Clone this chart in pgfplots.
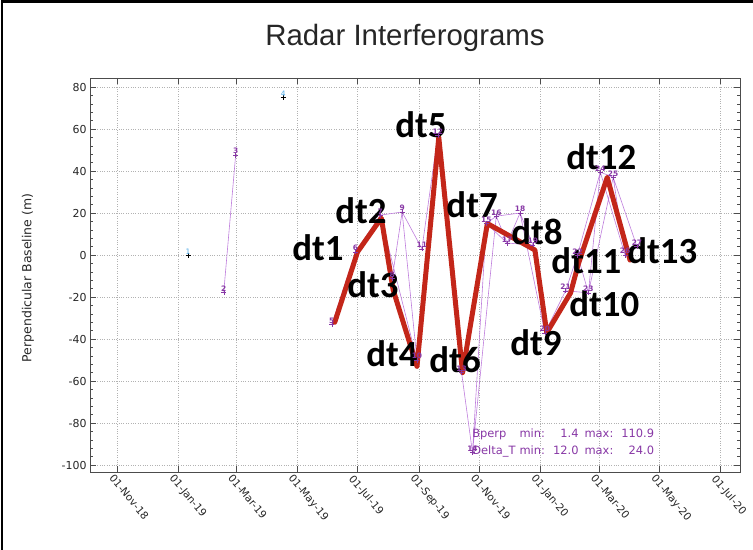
\documentclass[border=0pt]{standalone}
\usepackage{pgfplots}
\pgfplotsset{compat=1.18}
\usepackage{pgfplotstable}
\usepackage{fontspec}
\setmainfont{DejaVu Sans}
\newfontfamily\arialf{Liberation Sans}
\newfontfamily\calib{Carlito}
\definecolor{ptlab}{RGB}{135,55,165}
\definecolor{thinl}{RGB}{190,125,220}
\definecolor{redl}{RGB}{195,38,25}
\definecolor{cyanl}{RGB}{80,170,230}

\pgfplotstableread{
x y l
107 -17.6 2
119 47.6 3
216 -33 5
240 1.5 6
265 19 7
277 -11 8
287 20.5 9
302 -50 10
307 3 11
323 57 12
347 -56 13
358 -94 14
372 15 15
382 18.5 16
393 5.7 17
406 20 18
419 4.8 19
431 -37 20
452 -17 21
464 0 22
475 -18 23
487 39.5 24
500 37 25
512 0 26
524 4 27
}\pts

\pgfplotstableread{
x y l
71 0 1
167 75 4
}\ptsb

\pgfplotstableread{
x y
219 -32
242 1.5
266 17.6
278 -16.7
302 -53
324 56
348 -56
373 15
421 2.4
433 -37
457 -18
465 -4
494 37
517 -2.4
}\redpath

\begin{document}
\begin{tikzpicture}[x=1bp,y=1bp]
\begin{axis}[
  name=ax, at={(0,0)}, anchor=south west,
  scale only axis, width=650bp, height=394bp,
  xmin=-28, xmax=628, ymin=-103.3, ymax=84.3,
  xtick={0,61,120,181,242,304,365,426,486,547,608},
  xticklabels={01-Nov-18,01-Jan-19,01-Mar-19,01-May-19,01-Jul-19,01-Sep-19,01-Nov-19,01-Jan-20,01-Mar-20,01-May-20,01-Jul-20},
  ytick={-100,-80,...,80},
  minor x tick num=7, minor y tick num=4,
  tick align=inside, major tick length=6bp, minor tick length=3bp,
  grid=major, grid style={dotted, black!30, line width=0.7bp},
  axis line style={black!70, line width=0.8bp},
  tick style={black!70, line width=0.6bp},
  /pgf/number format/assume math mode=true,
  y tick label style={font=\fontsize{11}{13}\selectfont, text=black!85},
  x tick label style={rotate=-50, anchor=north west, font=\fontsize{10.5}{12}\selectfont, text=black!85, xshift=-4bp},
  clip=false,
]
% thin interferogram lines
\addplot[color=thinl, line width=0.6bp, unbounded coords=jump, forget plot] coordinates {
(107,-17.6) (119,47.6) (0,nan)
(216,-33) (240,1.5) (0,nan)
(240,1.5) (265,19) (0,nan)
(265,19) (287,20.5) (0,nan)
(265,19) (277,-11) (0,nan)
(265,19) (302,-50) (0,nan)
(277,-11) (287,20.5) (0,nan)
(287,20.5) (302,-50) (0,nan)
(287,20.5) (307,3) (0,nan)
(302,-50) (323,57) (0,nan)
(307,3) (323,57) (0,nan)
(323,57) (347,-56) (0,nan)
(347,-56) (358,-94) (0,nan)
(347,-56) (372,15) (0,nan)
(358,-94) (372,15) (0,nan)
(358,-94) (382,18.5) (0,nan)
(372,15) (382,18.5) (0,nan)
(372,15) (393,5.7) (0,nan)
(382,18.5) (393,5.7) (0,nan)
(382,18.5) (406,20) (0,nan)
(393,5.7) (406,20) (0,nan)
(393,5.7) (419,4.8) (0,nan)
(406,20) (419,4.8) (0,nan)
(406,20) (431,-37) (0,nan)
(419,4.8) (431,-37) (0,nan)
(431,-37) (452,-17) (0,nan)
(452,-17) (464,0) (0,nan)
(452,-17) (475,-18) (0,nan)
(464,0) (475,-18) (0,nan)
(464,0) (487,39.5) (0,nan)
(475,-18) (487,39.5) (0,nan)
(475,-18) (500,37) (0,nan)
(487,39.5) (500,37) (0,nan)
(487,39.5) (512,0) (0,nan)
(500,37) (512,0) (0,nan)
(500,37) (524,4) (0,nan)
(512,0) (524,4)
};
% points
\addplot[only marks, mark=+, mark size=2.5bp, color=ptlab,
  nodes near coords, point meta=explicit symbolic,
  nodes near coords style={font=\bfseries\fontsize{7.5}{8}\selectfont, text=ptlab, anchor=south, inner sep=0.8bp}]
  table[x=x, y=y, meta=l] {\pts};
\addplot[only marks, mark=+, mark size=2.5bp, color=black,
  nodes near coords, point meta=explicit symbolic,
  nodes near coords style={font=\fontsize{7.5}{8}\selectfont, text=cyanl, anchor=south, inner sep=0.8bp}]
  table[x=x, y=y, meta=l] {\ptsb};
% red path
\addplot[color=redl, line width=5bp, line join=round, line cap=round, mark=none] table[x=x, y=y] {\redpath};
% dt labels
\begin{scope}[every node/.style={font=\calib\bfseries\fontsize{37}{40}\selectfont, text=black, anchor=base, inner sep=0pt}]
\node at (axis cs:202,-2.4) {dt1};
\node at (axis cs:245.5,15.2) {dt2};
\node at (axis cs:257.6,-20) {dt3};
\node at (axis cs:276.8,-53.3) {dt4};
\node at (axis cs:306,56.2) {dt5};
\node at (axis cs:340.4,-55.7) {dt6};
\node at (axis cs:357.6,18.1) {dt7};
\node at (axis cs:423,4.8) {dt8};
\node at (axis cs:422,-47.6) {dt9};
\node at (axis cs:491,-29.5) {dt10};
\node at (axis cs:473,-8.6) {dt11};
\node at (axis cs:488,40.5) {dt12};
\node at (axis cs:549.5,-3.8) {dt13};
\end{scope}
\node[anchor=base west, inner sep=0pt, text=ptlab, font=\fontsize{11.5}{17}\selectfont] at (axis cs:357.6,-87.1)
{\begin{tabular}[t]{@{}l@{\hspace{4bp}}l@{\hspace{8bp}}r@{\hspace{6bp}}l@{\hspace{8bp}}r@{}}
Bperp & min: & 1.4 & max: & 110.9\\
Delta\_T & min: & 12.0 & max: & 24.0
\end{tabular}};
\end{axis}
\pgfresetboundingbox
\path (ax.south west) ++(-90,-78) coordinate (O);
\useasboundingbox (O) rectangle ++(753,550);
\draw[line width=2.5bp] ([shift={(2,0)}]O) -- ++(0,548.7) -- ++(751,0);
\node[anchor=base, font=\arialf\fontsize{29.5}{32}\selectfont, text=black!85] at ([shift={(405,504)}]O) {Radar Interferograms};
\node[rotate=90, font=\fontsize{12.5}{14}\selectfont, text=black!85] at ([shift={(28,272)}]O) {Perpendicular Baseline (m)};
\end{tikzpicture}
\end{document}
